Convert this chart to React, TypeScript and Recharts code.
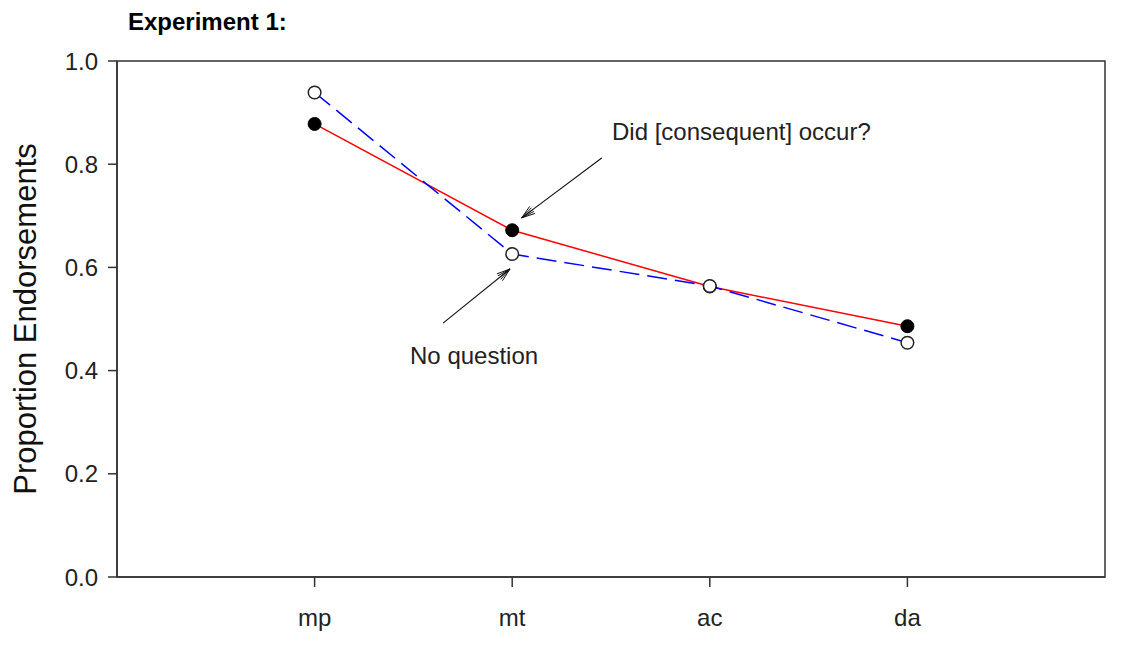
import React from 'react';
import {
  LineChart,
  Line,
  XAxis,
  YAxis,
  ReferenceArea,
  ReferenceLine,
  ReferenceDot,
} from 'recharts';

const categories = ['mp', 'mt', 'ac', 'da'];
const questionSeries = [0.878, 0.672, 0.563, 0.486]; // Did [consequent] occur?
const noQuestionSeries = [0.939, 0.626, 0.564, 0.454]; // No question
const yTicks = [0, 0.2, 0.4, 0.6, 0.8, 1.0];
const xTicks = [1, 2, 3, 4];

const data = categories.map((c, i) => ({
  x: i + 1,
  cat: c,
  q: questionSeries[i],
  nq: noQuestionSeries[i],
}));

// annotations in data units
const arrowQ = { from: { x: 2.453, y: 0.812 }, to: { x: 2.048, y: 0.696 } };
const arrowNQ = { from: { x: 1.65, y: 0.492 }, to: { x: 1.989, y: 0.597 } };
const labelQ = { x: 2.505, y: 0.864, text: 'Did [consequent] occur?' };
const labelNQ = { x: 1.483, y: 0.43, text: 'No question' };

const FONT = '"Liberation Sans", Arial, sans-serif';

const ArrowShape = (props: any) => {
  const { x1, y1, x2, y2 } = props;
  if ([x1, y1, x2, y2].some((v) => v == null || isNaN(v))) return null;
  const ang = Math.atan2(y2 - y1, x2 - x1);
  const len = 14;
  const spread = 0.32;
  const heads = [-spread, -spread * 0.5, 0, spread * 0.5, spread].map((d, i) => {
    const a = ang + Math.PI + d;
    return (
      <line
        key={i}
        x1={x2}
        y1={y2}
        x2={x2 + Math.cos(a) * len}
        y2={y2 + Math.sin(a) * len}
        stroke="#111"
        strokeWidth={1}
      />
    );
  });
  return (
    <g>
      <line x1={x1} y1={y1} x2={x2} y2={y2} stroke="#111" strokeWidth={1.1} />
      {heads}
    </g>
  );
};

const makeTextShape = (text: string) => (props: any) => {
  const { cx, cy } = props;
  if (cx == null || cy == null) return null;
  return (
    <text
      x={cx}
      y={cy}
      dominantBaseline="central"
      textAnchor="start"
      fontFamily={FONT}
      fontSize={24}
      fill="#222"
    >
      {text}
    </text>
  );
};

const FilledDot = (props: any) => {
  const { cx, cy } = props;
  if (cx == null || cy == null) return null;
  return <circle cx={cx} cy={cy} r={6.5} fill="#000" stroke="#000" strokeWidth={1} />;
};

const OpenDot = (props: any) => {
  const { cx, cy } = props;
  if (cx == null || cy == null) return null;
  return <circle cx={cx} cy={cy} r={6.3} fill="#fff" stroke="#222" strokeWidth={1.5} />;
};

const YLabel = (props: any) => {
  const vb = props.viewBox || {};
  const x = 25;
  const y = (vb.y ?? 61) + (vb.height ?? 516) / 2;
  return (
    <text
      x={x}
      y={y}
      transform={`rotate(-90, ${x}, ${y})`}
      textAnchor="middle"
      dominantBaseline="central"
      fontFamily={FONT}
      fontSize={31}
      fill="#111"
    >
      Proportion Endorsements
    </text>
  );
};

export default function App() {
  return (
    <div style={{ position: 'absolute', left: 0, top: 0, width: 1145, height: 653, background: '#fff' }}>
      <div
        style={{
          position: 'absolute',
          left: 128,
          top: 10,
          fontFamily: FONT,
          fontWeight: 'bold',
          fontSize: 24,
          lineHeight: '24px',
          color: '#000',
          whiteSpace: 'nowrap',
        }}
      >
        Experiment 1:
      </div>
      <LineChart
        width={1145}
        height={653}
        data={data}
        margin={{ top: 61, right: 40, bottom: 0, left: 0 }}
      >
        <ReferenceArea
          x1={0}
          x2={5}
          y1={0}
          y2={1}
          fill="none"
          stroke="#333"
          strokeWidth={1.5}
          fillOpacity={0}
        />
        <XAxis
          dataKey="x"
          type="number"
          domain={[0, 5]}
          ticks={xTicks}
          tickFormatter={(v: number) => categories[v - 1] ?? ''}
          axisLine={{ stroke: '#333', strokeWidth: 1.5 }}
          tickLine={{ stroke: '#333', strokeWidth: 1.5 }}
          tickSize={10}
          tickMargin={22}
          tick={{ fontFamily: FONT, fontSize: 24, fill: '#222' }}
          height={76}
        />
        <YAxis
          type="number"
          domain={[0, 1]}
          ticks={yTicks}
          tickFormatter={(v: number) => v.toFixed(1)}
          axisLine={{ stroke: '#333', strokeWidth: 1.5 }}
          tickLine={{ stroke: '#333', strokeWidth: 1.5 }}
          tickSize={9}
          tickMargin={10}
          tick={{ fontFamily: FONT, fontSize: 24, fill: '#222' }}
          width={117}
          interval={0}
          label={<YLabel />}
        />
        <Line
          dataKey="q"
          stroke="#ff0000"
          strokeWidth={1.5}
          dot={false}
          activeDot={false}
          isAnimationActive={false}
        />
        <Line
          dataKey="nq"
          stroke="#0000ff"
          strokeWidth={1.5}
          strokeDasharray="20 8"
          dot={false}
          activeDot={false}
          isAnimationActive={false}
        />
        <Line
          dataKey="q"
          stroke="none"
          dot={<FilledDot />}
          activeDot={false}
          isAnimationActive={false}
        />
        <Line
          dataKey="nq"
          stroke="none"
          dot={<OpenDot />}
          activeDot={false}
          isAnimationActive={false}
        />
        <ReferenceLine
          segment={[arrowQ.from, arrowQ.to]}
          shape={<ArrowShape />}
        />
        <ReferenceLine
          segment={[arrowNQ.from, arrowNQ.to]}
          shape={<ArrowShape />}
        />
        <ReferenceDot x={labelQ.x} y={labelQ.y} r={1} shape={makeTextShape(labelQ.text)} />
        <ReferenceDot x={labelNQ.x} y={labelNQ.y} r={1} shape={makeTextShape(labelNQ.text)} />
      </LineChart>
    </div>
  );
}
